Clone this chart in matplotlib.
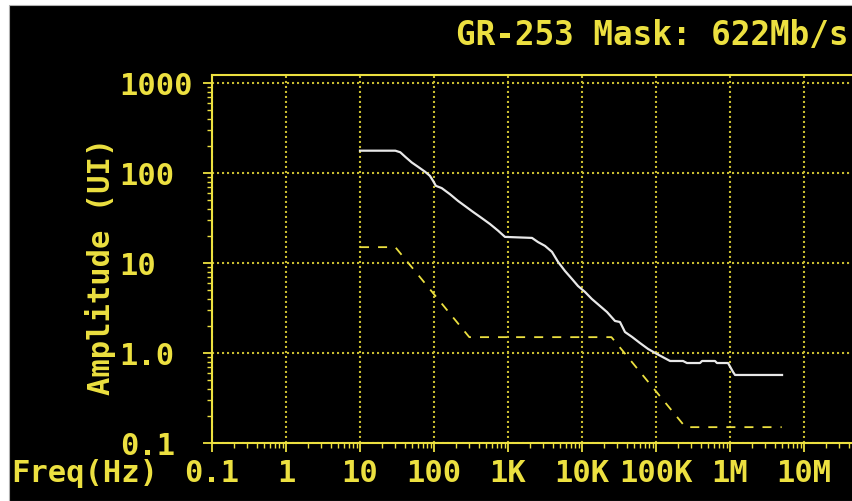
import numpy as np
import matplotlib
matplotlib.use('Agg')
import matplotlib.pyplot as plt
from matplotlib.patches import Rectangle
from matplotlib.ticker import LogLocator, FixedLocator, NullFormatter

# measured jitter tolerance (white trace)
meas_freq = [10, 30, 35, 41, 50, 61, 76, 88, 97, 106, 127, 165, 211, 262, 336, 441,
             571, 733, 910, 2110, 2540, 3160, 3930, 4740, 5890, 7330, 8830, 11000,
             13600, 17500, 21800, 27900, 32600, 38100, 47400, 60800, 78000, 103000,
             155000, 232000, 262000, 393000, 419000, 627000, 667000, 940000,
             1.10e6, 1.17e6, 5.05e6]
meas_amp = [177, 177, 170, 151, 131, 117, 103, 93, 82, 72, 68, 58, 49, 43, 37, 31.6,
            27.1, 22.9, 19.5, 19.0, 17.1, 15.5, 13.3, 10.3, 8.15, 6.64, 5.55, 4.76,
            3.98, 3.33, 2.85, 2.27, 2.21, 1.71, 1.51, 1.29, 1.11, 0.975,
            0.815, 0.815, 0.774, 0.774, 0.815, 0.815, 0.774, 0.774,
            0.615, 0.570, 0.570]

# GR-253 OC-12 mask (dashed)
mask_freq = [10, 30, 300, 25000, 250000, 5e6]
mask_amp = [15, 15, 1.5, 1.5, 0.15, 0.15]

xticks = [0.1, 1, 10, 100, 1e3, 1e4, 1e5, 1e6, 1e7]
xlabels = ['0.1', '1', '10', '100', '1K', '10K', '100K', '1M', '10M']
yticks = [0.1, 1, 10, 100, 1000]
ylabels = ['0.1', '1.0', '10', '100', '1000']

yel = '#ece040'
grid_col = '#c8bc30'
font = 'DejaVu Sans Mono'
W, H = 852, 502

fig = plt.figure(figsize=(W / 100, H / 100), dpi=100, facecolor='white')
fig.patches.append(Rectangle((9 / W, 0), 1, 1 - 6 / H, transform=fig.transFigure,
                             facecolor='black', edgecolor='#b0b0b0', lw=0.8, zorder=-5))

# axes spans 0.1 .. 1e8 (9 decades, 74 px each), clipped at right edge
ax = fig.add_axes([212 / W, (H - 444) / H, 9 * 74 / W, (444 - 76) / H])
ax.set_facecolor('black')
ax.set_xscale('log')
ax.set_yscale('log')
ax.set_xlim(0.1, 1e8)
ax.set_ylim(0.1, 1000 * 10 ** (8 / 90))

ax.plot(meas_freq, meas_amp, color='#e8e8e8', lw=1.6, zorder=3)
ax.plot(mask_freq, mask_amp, color=yel, lw=1.3, linestyle=(0, (5, 5)), zorder=3)

ax.xaxis.set_major_locator(FixedLocator(xticks))
ax.set_xticklabels(xlabels)
ax.yaxis.set_major_locator(FixedLocator(yticks))
ax.set_yticklabels(ylabels)
ax.xaxis.set_minor_locator(LogLocator(base=10, subs=np.arange(2, 10), numticks=20))
ax.yaxis.set_minor_locator(LogLocator(base=10, subs=np.arange(2, 10), numticks=20))
ax.xaxis.set_minor_formatter(NullFormatter())
ax.yaxis.set_minor_formatter(NullFormatter())

ax.grid(True, which='major', color=grid_col, linestyle=(0, (1, 1.4)), lw=1.5)

for s in ['left', 'bottom', 'top']:
    ax.spines[s].set_color(yel)
    ax.spines[s].set_linewidth(1.5)
ax.spines['right'].set_visible(False)

ax.tick_params(which='major', colors=yel, length=6.5, width=1.3, direction='out')
ax.tick_params(which='minor', colors=yel, length=3.5, width=1.0, direction='out')
ax.tick_params(axis='x', which='major', pad=4, labelsize=22)
ax.tick_params(axis='y', which='major', pad=60, labelsize=22)
for lab in ax.get_xticklabels() + ax.get_yticklabels():
    lab.set_family(font)
    lab.set_weight('bold')
    lab.set_color(yel)
for lab in ax.get_yticklabels():
    lab.set_horizontalalignment('left')

fig.text(849 / W, 1 - 36 / H, 'GR-253 Mask: 622Mb/s', ha='right', va='center',
         color=yel, family=font, fontsize=23.5, weight='bold')
fig.text(100 / W, 1 - 266 / H, 'Amplitude (UI)', ha='center', va='center',
         rotation=90, color=yel, family=font, fontsize=22, weight='bold')
fig.text(11 / W, 1 - 474 / H, 'Freq(Hz)', ha='left', va='center',
         color=yel, family=font, fontsize=22, weight='bold')

fig.savefig('out.png', dpi=100, facecolor=fig.get_facecolor())
